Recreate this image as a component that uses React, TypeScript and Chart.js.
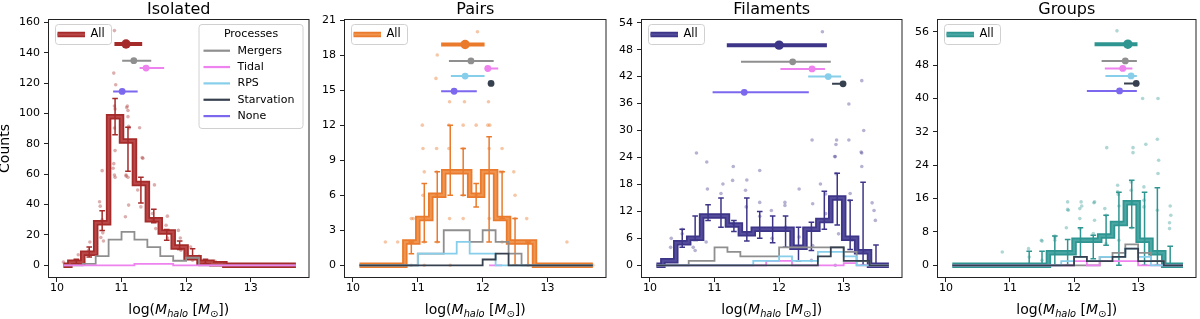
import React, { useEffect, useRef } from "react";
import { Chart, registerables } from "chart.js";

Chart.register(...registerables);

const FONT = "'DejaVu Sans', 'Liberation Sans', sans-serif";

// ---------- shared ----------
const binCenters = [10.1, 10.3, 10.5, 10.7, 10.9, 11.1, 11.3, 11.5, 11.7, 11.9, 12.1, 12.3, 12.5, 12.7, 12.9, 13.1, 13.3, 13.5, 13.7];
const xTicks = [10, 11, 12, 13];
const processNames = ["Mergers", "Tidal", "RPS", "Starvation", "None"];
const processColors = ["#8f8f8f", "#ee82ee", "#87ceeb", "#36404f", "#7b68ee"];

// ---------- Isolated ----------
const isoYTicks = [0, 20, 40, 60, 80, 100, 120, 140, 160];
const isoAll = [0, 2, 8, 28, 98, 82, 54, 30, 22, 12, 5, 2, 1, 0, 0, 0, 0, 0, 0];
const isoMergers = [0, 0, 1, 6, 17, 22, 17, 12, 6, 3, 5, 0, 0, 0, 0, 0, 0, 0, 0];
const isoTidal = [0, 0, 0, 0, 0, 0, 1, 1, 1, 0, 0, 0, 0, 0, 0, 0, 0, 0, 0];
const isoErrLo = [null, 1, 5.5, 23, 86, 62, 41, 28, 16.5, 10.4, 5, 1, null, null, null, null, null, null, null];
const isoErrHi = [null, 4, 12, 36, 110, 91, 58, 37, 23.6, 16, 11, 4, null, null, null, null, null, null, null];
const isoPtsX = [10.89, 10.88, 10.91, 10.89, 10.9, 10.89, 10.9, 11.08, 11.1, 11.11, 11.28, 11.33, 10.66, 10.67, 10.71, 10.7, 10.89, 10.88, 11.07, 11.1, 11.11, 11.06, 11.25, 11.3, 11.48, 11.49, 11.53, 11.69, 11.71, 11.71, 11.88, 11.91, 11.92, 12.07, 12.1, 12.3, 12.45, 10.1, 10.33, 10.51, 10.49, 10.72, 10.68, 11.09, 11.1, 11.12, 10.87, 10.7, 10.9, 11.07, 11.32, 11.51, 12.6, 12.2];
const isoPtsY = [154.7, 126.7, 119, 105, 103, 90.5, 75.6, 104, 102, 91.6, 90.7, 70.5, 41.9, 39, 21.4, 30, 59.5, 67, 59.5, 58, 39.7, 32, 49.6, 38.5, 34.2, 30, 24.2, 26.4, 32.4, 18, 23, 18, 9.9, 12, 3.3, 1, 2.6, 2.2, 7, 15.4, 9.9, 16, 18.3, 105, 98, 90.5, 64, 62.4, 58, 58.8, 71, 53, 1, 6];
const isoRowKind = [-1, 0, 1, 4];
const isoRowLo = [10.89, 11.01, 11.28, 10.87];
const isoRowMed = [11.07, 11.19, 11.38, 11.01];
const isoRowHi = [11.32, 11.46, 11.66, 11.25];
const isoRowY = [145.9, 134.9, 130, 114.6];

// ---------- Pairs ----------
const pairYTicks = [0, 3, 6, 9, 12, 15, 18, 21];
const pairAll = [0, 0, 0, 0, 2, 4, 6, 8, 8, 6, 8, 4, 2, 2, 0, 0, 0, 0, 0];
const pairMergers = [0, 0, 0, 0, 0, 1, 1, 3, 3, 2, 3, 2, 1, 0, 0, 0, 0, 0, 0];
const pairTidal = [null, null, null, null, null, null, null, null, null, null, 0, 0, null, null, null, null, null, null, null];
const pairRPS = [0, 0, 0, 0, 0, 1, 1, 1, 2, 1, 1, 0, 0, 0, 0, 0, 0, 0, 0];
const pairStarv = [0, 0, 0, 0, 0, 0, 0, 0, 0, 0, 0.5, 1, 0, 0, 0, 0, 0, 0, 0];
const pairErrLo = [null, null, null, null, 1, 2, 2, 6, 6, 5, 2, 4, 0, 0, null, null, null, null, null];
const pairErrHi = [null, null, null, null, 2, 7, 8, 12, 10, 7, 11, 8, 4, 2, null, null, null, null, null];
const pairPtsX = [11.92, 11.3, 11.28, 11.49, 11.72, 12.09, 11.07, 11.48, 11.7, 11.9, 12.08, 12.11, 11.08, 11.29, 11.48, 11.7, 12.1, 12.3, 11.1, 11.29, 12.27, 12.31, 12.48, 11.08, 11.29, 11.7, 11.9, 12.5, 10.9, 10.93, 11.49, 11.7, 12.1, 12.5, 12.68, 10.5, 10.69, 11.1, 11.3, 12.3, 13.3, 10.9, 11.1, 11.5, 12.7, 12.9, 13.7];
const pairPtsY = [20, 18, 16, 14, 14, 14, 12, 12, 12, 12, 12, 12, 10, 10, 10, 10, 10, 10, 8, 8, 8, 8, 8, 6, 6, 6, 6, 6, 4, 4, 4, 4, 4, 4, 4, 2, 2, 2, 2, 2, 2, 0, 0, 0, 0, 0, 0];
const pairRowKind = [-1, 0, 1, 2, 3, 4];
const pairRowLo = [11.36, 11.48, 12.03, 11.51, 12.09, 11.36];
const pairRowMed = [11.73, 11.82, 12.08, 11.73, 12.13, 11.56];
const pairRowHi = [12.03, 12.17, 12.24, 12.03, 12.16, 11.91];
const pairRowY = [18.9, 17.5, 16.85, 16.2, 15.57, 14.9];

// ---------- Filaments ----------
const filYTicks = [0, 6, 12, 18, 24, 30, 36, 42, 48, 54];
const filAll = [0, 1, 5, 6, 11, 11, 9, 7, 8, 8, 8, 4, 8, 10, 15, 6, 3, 0, 0];
const filMergers = [0, 0, 0, 1, 1, 4, 3, 2, 2, 2, 4, 4, 4, 4, 4, 3, 1, 0, 0];
const filTidal = [0, 0, 0, 0, 0, 0, 0, 0, 0, 1, 1, 0, 0, 0, 0, 0.5, 0, 0, 0];
const filRPS = [0, 0, 0, 0, 0, 0, 0, 0, 1, 1, 2, 1, 1, 3, 3, 2, 0, 0, 0];
const filStarv = [0, 0, 0, 0, 0, 0, 0, 0, 0, 0, 0, 0, 0, 2, 4, 1, 1, 0, 0];
const filErrLo = [null, null, 4, 5.5, 10, 8.5, 7.5, 5.4, 6, 5, 4, 1, 3.3, 8, 9, 3.5, 0, 0, null];
const filErrHi = [null, null, 8, 11, 13.5, 15, 10, 15, 12, 11, 11, 8.5, 9.6, 16.5, 20.5, 14.5, 18.5, 4.5, null];
const filPtsX = [12.67, 13.28, 13.08, 13.31, 12.51, 12.89, 12.88, 13.08, 10.72, 12.86, 13.28, 10.88, 11.13, 11.28, 11.29, 11.7, 11.5, 10.89, 11.1, 11.48, 11.7, 11.88, 12.09, 12.09, 12.31, 12.52, 12.64, 12.72, 12.87, 12.88, 13.09, 13.1, 13.27, 13.28, 13.44, 13.47, 13.49, 10.33, 10.32, 10.5, 10.5, 10.67, 10.7, 10.87, 11.29, 11.49, 11.7, 11.89, 12.1, 12.31, 12.52, 12.72, 12.92, 13.13, 13.33, 12.5, 12.87];
const filPtsY = [52, 41.1, 35.9, 30, 27.9, 27.9, 26.9, 27.9, 25, 24.2, 25, 23, 18.1, 18.9, 22, 21.1, 19, 17, 16, 16.7, 14, 12.2, 14, 13.3, 17, 13.7, 18.1, 15.9, 24.2, 20.4, 14.4, 16, 25.2, 22, 13.9, 12.2, 10, 6, 4, 8, 7, 4, 3.3, 5.2, 9.3, 13, 10.9, 6, 8.5, 6.3, 4.4, 11.5, 7, 5.6, 3.3, 1.1, 0];
const filRowKind = [-1, 0, 1, 2, 3, 4];
const filRowLo = [11.19, 11.41, 12.02, 12.45, 12.82, 10.97];
const filRowMed = [12.0, 12.21, 12.51, 12.76, 12.99, 11.46];
const filRowHi = [12.74, 12.8, 12.71, 12.96, 13.0, 12.46];
const filRowY = [49, 45.3, 43.7, 42, 40.4, 38.5];

// ---------- Groups ----------
const grpYTicks = [0, 8, 16, 24, 32, 40, 48, 56];
const grpAll = [0, 0, 0, 0, 0, 0, 0, 0, 3, 3, 6, 6, 7, 10, 15, 6, 3, 0, 0];
const grpMergers = [0, 0, 0, 0, 0, 0, 0, 0, 0, 0, 0, 0, 2, 3, 5, 3, 1, 0, 0];
const grpTidal = [0, 0, 0, 0, 0, 0, 0, 0, 0, 0, 1, 0, 1, 1, 1, 0, 0, 0, 0];
const grpRPS = [0, 0, 0, 0, 0, 0, 0, 0, 0, 1, 2, 1, 2, 2, 4, 2, 0, 0, 0];
const grpStarv = [0, 0, 0, 0, 0, 0, 0, 0, 0, 0, 2, 1, 1, 2, 4, 1, 1, 0, 0];
const grpErrLo = [null, null, null, null, null, null, 0, 0, 0, 0, 2, 1.6, 4.8, 0, 9, 0, 0, 0, null];
const grpErrHi = [null, null, null, null, null, null, 3.4, 3.4, 7, 6.2, 9, 7.2, 12, 17.5, 20.4, 17.5, 18.6, 4.6, null];
const grpPtsX = [12.67, 13.07, 13.31, 13.12, 13.3, 12.51, 12.92, 12.92, 13.32, 13.31, 10.88, 11.29, 11.49, 11.7, 11.7, 11.9, 11.91, 12.09, 12.09, 12.11, 12.32, 12.32, 12.48, 12.5, 12.68, 12.68, 12.89, 12.89, 13.09, 13.09, 13.3, 13.5, 13.51, 13.49, 13.49, 11.3, 11.5, 11.9, 12.12, 12.31, 12.69, 12.7, 12.9, 13.09, 12.09, 12.3, 11.5, 11.7, 11.88, 12.5, 12.9, 12.7];
const grpPtsY = [56.2, 40, 40, 29, 30.2, 28.2, 28.2, 27, 25.2, 22, 3.2, 4, 6, 7, 6, 15.2, 13.2, 13.6, 11.2, 15.2, 15.2, 10.8, 13.6, 12, 19.2, 17.6, 20, 18, 14, 18.8, 13.2, 14.2, 12, 10.2, 8.8, 2, 1.2, 13.4, 14.2, 15, 17, 14.2, 15, 15.6, 8.8, 7.6, 5.8, 6.6, 9, 5.2, 9, 6];
const grpRowKind = [-1, 0, 1, 2, 3, 4];
const grpRowLo = [12.32, 12.43, 12.48, 12.49, 12.78, 12.2];
const grpRowMed = [12.84, 12.8, 12.76, 12.89, 12.97, 12.71];
const grpRowHi = [12.99, 12.98, 12.91, 12.98, 12.99, 12.98];
const grpRowY = [53, 49, 47.2, 45.4, 43.6, 41.8];

// ---------- panel table built from the arrays ----------
type Num = number | null;
interface PanelDef {
  title: string;
  left: number;
  right: number;
  canvasLeft: number;
  yMin: number;
  yMax: number;
  yTicks: number[];
  color: string;
  inner: string;
  ptColor: string;
  all: number[];
  procs: (Num[] | null)[];
  errLo: Num[];
  errHi: Num[];
  ptsX: number[];
  ptsY: number[];
  rowKind: number[];
  rowLo: number[];
  rowMed: number[];
  rowHi: number[];
  rowY: number[];
  counts: boolean;
  procLegend: boolean;
}

const X_MIN = 9.877;
const X_MAX = 13.895;
const PLOT_TOP = 20;
const PLOT_BOTTOM = 277;
const H = 319;

const panels: PanelDef[] = [
  {
    title: "Isolated", left: 49, right: 310, canvasLeft: 0, yMin: -7.7, yMax: 161.7, yTicks: isoYTicks,
    color: "#a52a2a", inner: "#ba4848", ptColor: "rgba(165,42,42,0.38)",
    all: isoAll, procs: [isoMergers, isoTidal, null, null],
    errLo: isoErrLo, errHi: isoErrHi, ptsX: isoPtsX, ptsY: isoPtsY,
    rowKind: isoRowKind, rowLo: isoRowLo, rowMed: isoRowMed, rowHi: isoRowHi, rowY: isoRowY,
    counts: true, procLegend: true,
  },
  {
    title: "Pairs", left: 345, right: 607, canvasLeft: 313, yMin: -1, yMax: 21, yTicks: pairYTicks,
    color: "#ea7a2c", inner: "#f09550", ptColor: "rgba(234,122,44,0.42)",
    all: pairAll, procs: [pairMergers, pairTidal, pairRPS, pairStarv],
    errLo: pairErrLo, errHi: pairErrHi, ptsX: pairPtsX, ptsY: pairPtsY,
    rowKind: pairRowKind, rowLo: pairRowLo, rowMed: pairRowMed, rowHi: pairRowHi, rowY: pairRowY,
    counts: false, procLegend: false,
  },
  {
    title: "Filaments", left: 642, right: 903, canvasLeft: 610, yMin: -2.6, yMax: 54.6, yTicks: filYTicks,
    color: "#3d3588", inner: "#554d9c", ptColor: "rgba(61,53,136,0.38)",
    all: filAll, procs: [filMergers, filTidal, filRPS, filStarv],
    errLo: filErrLo, errHi: filErrHi, ptsX: filPtsX, ptsY: filPtsY,
    rowKind: filRowKind, rowLo: filRowLo, rowMed: filRowMed, rowHi: filRowHi, rowY: filRowY,
    counts: false, procLegend: false,
  },
  {
    title: "Groups", left: 938, right: 1197, canvasLeft: 906, yMin: -2.8, yMax: 58.8, yTicks: grpYTicks,
    color: "#2e9591", inner: "#4aa7a4", ptColor: "rgba(46,149,145,0.38)",
    all: grpAll, procs: [grpMergers, grpTidal, grpRPS, grpStarv],
    errLo: grpErrLo, errHi: grpErrHi, ptsX: grpPtsX, ptsY: grpPtsY,
    rowKind: grpRowKind, rowLo: grpRowLo, rowMed: grpRowMed, rowHi: grpRowHi, rowY: grpRowY,
    counts: false, procLegend: false,
  },
];

function buildDatasets(p: PanelDef) {
  const ds: any[] = [];
  let order = 1000;
  const hist = (vals: Num[], color: string, width: number) => ({
    data: binCenters.map((x, i) => ({ x, y: vals[i] })),
    stepped: "middle",
    borderColor: color,
    borderWidth: width,
    pointRadius: 0,
    borderJoinStyle: "miter",
    borderCapStyle: "butt",
    spanGaps: false,
    fill: false,
    order: order--,
  });
  ds.push(hist(p.all, p.color, 5.5));
  ds.push(hist(p.all, p.inner, 2));
  const eb: any[] = [];
  binCenters.forEach((x, i) => {
    if (p.errLo[i] != null && p.errHi[i] != null) {
      eb.push({ x, y: p.errLo[i] }, { x, y: p.errHi[i] }, { x, y: null });
    }
  });
  ds.push({
    data: eb, borderColor: p.color, borderWidth: 1.5, pointStyle: "line", pointRadius: 2.8,
    pointBorderWidth: 1.5, pointBorderColor: p.color, spanGaps: false, fill: false, order: order--,
  });
  ds.push({
    data: p.ptsX.map((x, i) => ({ x, y: p.ptsY[i] })), showLine: false, pointRadius: 1.8,
    pointBackgroundColor: p.ptColor, pointBorderWidth: 0, order: order--,
  });
  p.procs.forEach((vals, k) => {
    if (vals) ds.push(hist(vals, processColors[k], 1.8));
  });
  p.rowLo.forEach((lo, k) => {
    const main = p.rowKind[k] < 0;
    const color = main ? p.color : processColors[p.rowKind[k]];
    const y = p.rowY[k];
    ds.push({
      data: [{ x: lo, y }, { x: p.rowMed[k], y }, { x: p.rowHi[k], y }],
      borderColor: color, borderWidth: main ? 4 : 2, pointRadius: [0, main ? 4.7 : 3.4, 0],
      pointBackgroundColor: color, pointBorderWidth: 0, borderCapStyle: "butt", fill: false, order: order--,
    });
  });
  return ds;
}

function roundRect(ctx: CanvasRenderingContext2D, x: number, y: number, w: number, h: number, r: number) {
  ctx.beginPath();
  ctx.moveTo(x + r, y);
  ctx.lineTo(x + w - r, y);
  ctx.arcTo(x + w, y, x + w, y + r, r);
  ctx.lineTo(x + w, y + h - r);
  ctx.arcTo(x + w, y + h, x + w - r, y + h, r);
  ctx.lineTo(x + r, y + h);
  ctx.arcTo(x, y + h, x, y + h - r, r);
  ctx.lineTo(x, y + r);
  ctx.arcTo(x, y, x + r, y, r);
  ctx.closePath();
}

function legendBox(ctx: CanvasRenderingContext2D, x: number, y: number, w: number, h: number) {
  roundRect(ctx, x + 0.5, y + 0.5, w, h, 3);
  ctx.fillStyle = "rgba(255,255,255,0.8)";
  ctx.fill();
  ctx.strokeStyle = "#d0d0d0";
  ctx.lineWidth = 1;
  ctx.stroke();
}

function drawXLabel(ctx: CanvasRenderingContext2D, cx: number, y: number) {
  const fs = 14;
  const normal = `${fs}px ${FONT}`;
  const ital = `italic ${fs}px ${FONT}`;
  const subI = `italic ${fs * 0.7}px ${FONT}`;
  const subN = `${fs * 0.7}px ${FONT}`;
  const parts = [
    { t: "log(", f: normal, dy: 0 },
    { t: "M", f: ital, dy: 0 },
    { t: "halo", f: subI, dy: 3 },
    { t: " [", f: normal, dy: 0 },
    { t: "M", f: ital, dy: 0 },
    { t: "\u2299", f: subN, dy: 3 },
    { t: "])", f: normal, dy: 0 },
  ];
  let total = 0;
  const widths = parts.map((p) => {
    ctx.font = p.f;
    const w = ctx.measureText(p.t).width;
    total += w;
    return w;
  });
  let x = cx - total / 2;
  ctx.fillStyle = "#000";
  ctx.textAlign = "left";
  ctx.textBaseline = "alphabetic";
  parts.forEach((p, i) => {
    ctx.font = p.f;
    ctx.fillText(p.t, x, y + p.dy);
    x += widths[i];
  });
}

function makeDeco(p: PanelDef) {
  return {
    id: "deco",
    afterDraw(chart: any) {
      const ctx: CanvasRenderingContext2D = chart.ctx;
      const ca = chart.chartArea;
      ctx.save();
      // frame
      ctx.strokeStyle = "#222";
      ctx.lineWidth = 1;
      ctx.strokeRect(ca.left - 0.5, ca.top - 0.5, ca.right - ca.left + 1, ca.bottom - ca.top + 1);
      const cx = (ca.left + ca.right) / 2;
      // title
      ctx.fillStyle = "#000";
      ctx.font = `16px ${FONT}`;
      ctx.textAlign = "center";
      ctx.textBaseline = "alphabetic";
      ctx.fillText(p.title, cx, 13.5);
      // x label
      drawXLabel(ctx, cx, 313.5);
      // y label
      if (p.counts) {
        ctx.save();
        ctx.translate(9 - p.canvasLeft, (PLOT_TOP + PLOT_BOTTOM) / 2);
        ctx.rotate(-Math.PI / 2);
        ctx.font = `14px ${FONT}`;
        ctx.textAlign = "center";
        ctx.textBaseline = "alphabetic";
        ctx.fillStyle = "#000";
        ctx.fillText("Counts", 0, 0);
        ctx.restore();
      }
      // "All" legend
      const bx = ca.left + 6;
      const by = ca.top + 4;
      legendBox(ctx, bx, by, 56, 20);
      const hy = by + 10.5;
      ctx.lineCap = "butt";
      ctx.beginPath();
      ctx.moveTo(bx + 2.5, hy);
      ctx.lineTo(bx + 30, hy);
      ctx.strokeStyle = p.color;
      ctx.lineWidth = 5.5;
      ctx.stroke();
      ctx.beginPath();
      ctx.moveTo(bx + 2.5, hy);
      ctx.lineTo(bx + 30, hy);
      ctx.strokeStyle = p.inner;
      ctx.lineWidth = 2;
      ctx.stroke();
      ctx.font = `11.5px ${FONT}`;
      ctx.textAlign = "left";
      ctx.textBaseline = "middle";
      ctx.fillStyle = "#000";
      ctx.fillText("All", bx + 35.5, hy);
      // processes legend
      if (p.procLegend) {
        const w = 104;
        const h = 104;
        const px = ca.right - 6 - w;
        const py = ca.top + 4;
        legendBox(ctx, px, py, w, h);
        ctx.font = `11px ${FONT}`;
        ctx.textAlign = "center";
        ctx.fillStyle = "#000";
        ctx.fillText("Processes", px + w / 2 + 0.5, py + 10.5);
        processNames.forEach((name, k) => {
          const ey = py + 26.7 + k * 16.35;
          ctx.beginPath();
          ctx.moveTo(px + 5, ey);
          ctx.lineTo(px + 31.5, ey);
          ctx.strokeStyle = processColors[k];
          ctx.lineWidth = 2.2;
          ctx.stroke();
          ctx.textAlign = "left";
          ctx.fillStyle = "#000";
          ctx.font = `11px ${FONT}`;
          ctx.fillText(name, px + 39, ey);
        });
      }
      ctx.restore();
    },
  };
}

function PanelChart({ p }: { p: PanelDef }) {
  const ref = useRef<HTMLCanvasElement | null>(null);
  const width = p.right + 4 - p.canvasLeft;
  const yw = p.left - p.canvasLeft;
  useEffect(() => {
    if (!ref.current) return;
    const tickFont = { family: FONT, size: 11 };
    const grid = { display: true, drawOnChartArea: false, drawTicks: true, tickLength: 5, color: "#222", lineWidth: 1 };
    const chart = new Chart(ref.current, {
      type: "line",
      data: { datasets: buildDatasets(p) },
      options: {
        responsive: false,
        maintainAspectRatio: false,
        animation: false,
        devicePixelRatio: 1,
        events: [],
        layout: { padding: { top: PLOT_TOP, right: 4, bottom: 0, left: 0 } },
        plugins: { legend: { display: false }, tooltip: { enabled: false }, title: { display: false } },
        scales: {
          x: {
            type: "linear",
            min: X_MIN,
            max: X_MAX,
            bounds: "data",
            afterBuildTicks: (ax: any) => { ax.ticks = xTicks.map((v) => ({ value: v })); },
            afterFit: (ax: any) => { ax.height = H - PLOT_BOTTOM; },
            grid,
            border: { display: false },
            ticks: { color: "#000", font: tickFont, padding: 0, maxRotation: 0, autoSkip: false, callback: (v: any) => String(v) },
          },
          y: {
            type: "linear",
            min: p.yMin,
            max: p.yMax,
            bounds: "data",
            afterBuildTicks: (ax: any) => { ax.ticks = p.yTicks.map((v) => ({ value: v })); },
            afterFit: (ax: any) => { ax.width = yw; },
            grid,
            border: { display: false },
            ticks: { color: "#000", font: tickFont, padding: 4, autoSkip: false, callback: (v: any) => String(v) },
          },
        },
      } as any,
      plugins: [makeDeco(p)],
    } as any);
    return () => chart.destroy();
  }, []);
  return (
    <canvas
      ref={ref}
      width={width}
      height={H}
      style={{ position: "absolute", left: p.canvasLeft, top: 0, width, height: H }}
    />
  );
}

export default function App() {
  return (
    <div style={{ position: "absolute", left: 0, top: 0, width: 1200, height: H, background: "#fff", overflow: "hidden" }}>
      {panels.map((p) => (
        <PanelChart key={p.title} p={p} />
      ))}
    </div>
  );
}
